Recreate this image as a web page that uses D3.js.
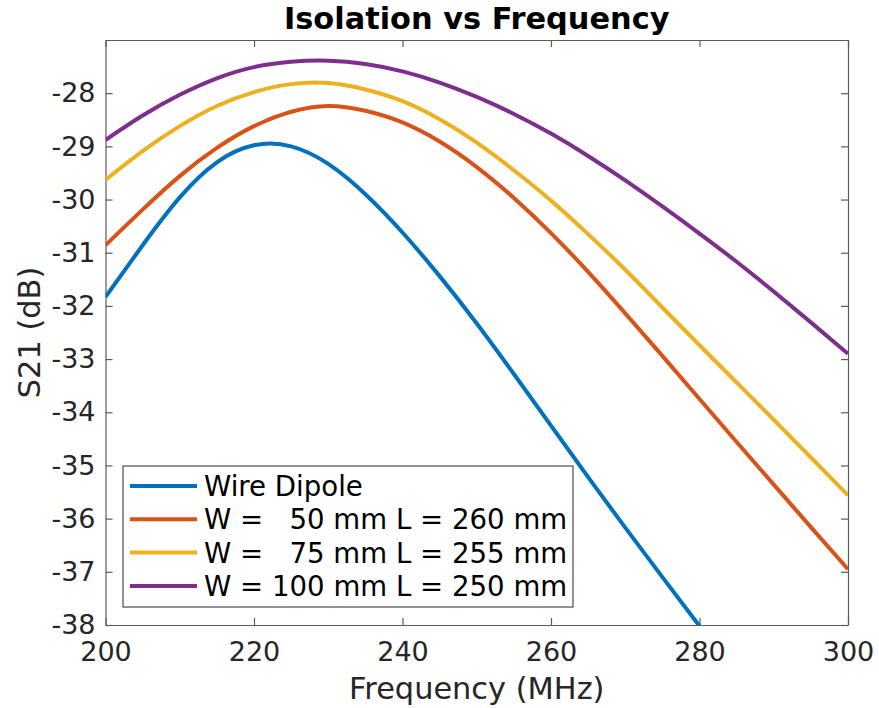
<!DOCTYPE html>
<html>
<head>
<meta charset="utf-8">
<script src="https://cdn.jsdelivr.net/npm/d3@7"></script>
<style>
  body { margin: 0; background: #fff; }
  text { font-family: "DejaVu Sans", sans-serif; }
</style>
</head>
<body>
<script>
const width = 879;
const height = 708;

// frequency points (MHz)
const freq = [200, 205, 210, 215, 220, 225, 230, 235, 240, 245, 250,
              255, 260, 265, 270, 275, 280, 285, 290, 295, 300];

// S21 (dB)
const wireDipole = [-31.83, -30.86, -29.96, -29.30, -28.98, -29.00, -29.33, -29.90, -30.62, -31.44, -32.33,
                    -33.28, -34.25, -35.22, -36.17, -37.10, -38.02];
const w50 = [-30.86, -30.19, -29.56, -29.03, -28.62, -28.35, -28.24, -28.33, -28.55, -28.91, -29.39,
             -29.97, -30.63, -31.36, -32.14, -32.94, -33.75, -34.56, -35.36, -36.16, -36.95];
const w75 = [-29.63, -29.09, -28.62, -28.24, -27.98, -27.83, -27.81, -27.93, -28.15, -28.49, -28.93,
             -29.45, -30.02, -30.65, -31.32, -32.03, -32.74, -33.44, -34.14, -34.85, -35.56];
const w100 = [-28.88, -28.42, -28.03, -27.72, -27.51, -27.41, -27.39, -27.45, -27.59, -27.80, -28.07,
              -28.39, -28.76, -29.18, -29.64, -30.13, -30.64, -31.17, -31.73, -32.31, -32.90];

const seriesNames = ['Wire Dipole', 'W =   50 mm L = 260 mm', 'W =   75 mm L = 255 mm', 'W = 100 mm L = 250 mm'];
const seriesColors = ['#0072BD', '#D95319', '#EDB120', '#7E2F8E'];
const seriesValues = [wireDipole, w50, w75, w100];

const xTicks = [200, 220, 240, 260, 280, 300];
const yTicks = [-38, -37, -36, -35, -34, -33, -32, -31, -30, -29, -28];

const margin = { top: 40, right: 31, bottom: 83, left: 105.5 };
const innerW = width - margin.left - margin.right;
const innerH = height - margin.top - margin.bottom;

const svg = d3.select('body')
    .append('svg')
    .attr('width', width)
    .attr('height', height);

const g = svg.append('g')
    .attr('transform', `translate(${margin.left}, ${margin.top})`);

const xScale = d3.scaleLinear().domain([200, 300]).range([0, innerW]);
const yScale = d3.scaleLinear().domain([-38, -27]).range([innerH, 0]);

const axisColor = '#5a5a5a';
const textColor = '#262626';

function styleAxis(sel, showLabels) {
    sel.select('.domain').attr('stroke', axisColor).attr('stroke-width', 1.2);
    sel.selectAll('.tick line').attr('stroke', axisColor).attr('stroke-width', 1.2);
    sel.selectAll('.tick text')
        .attr('fill', textColor)
        .style('font-size', '27px')
        .style('display', showLabels ? null : 'none');
}

g.append('g')
    .attr('transform', `translate(0, ${innerH})`)
    .call(d3.axisBottom(xScale).tickValues(xTicks).tickSizeInner(-7).tickSizeOuter(0).tickPadding(17)
        .tickFormat(d => d.toString()))
    .call(s => styleAxis(s, true));

g.append('g')
    .call(d3.axisTop(xScale).tickValues(xTicks).tickSizeInner(-7).tickSizeOuter(0))
    .call(s => styleAxis(s, false));

g.append('g')
    .call(d3.axisLeft(yScale).tickValues(yTicks).tickSizeInner(-7).tickSizeOuter(0).tickPadding(10)
        .tickFormat(d => d.toString()))
    .call(s => styleAxis(s, true));

g.append('g')
    .attr('transform', `translate(${innerW}, 0)`)
    .call(d3.axisRight(yScale).tickValues(yTicks).tickSizeInner(-7).tickSizeOuter(0))
    .call(s => styleAxis(s, false));

// clip the curves to the plot box
g.append('clipPath').attr('id', 'plotclip')
    .append('rect').attr('width', innerW).attr('height', innerH);

const line = d3.line()
    .x(d => xScale(d[0]))
    .y(d => yScale(d[1]))
    .curve(d3.curveNatural);

g.append('g')
    .attr('clip-path', 'url(#plotclip)')
    .selectAll('path')
    .data(seriesValues)
    .enter()
    .append('path')
    .attr('d', vals => line(vals.map((v, i) => [freq[i], v])))
    .attr('fill', 'none')
    .attr('stroke', (d, i) => seriesColors[i])
    .attr('stroke-width', 4);

// title & axis labels
svg.append('text')
    .attr('x', margin.left + innerW / 2)
    .attr('y', 29)
    .attr('text-anchor', 'middle')
    .style('font-size', '30.4px')
    .style('font-weight', 'bold')
    .text('Isolation vs Frequency');

svg.append('text')
    .attr('x', margin.left + innerW / 2)
    .attr('y', 699)
    .attr('text-anchor', 'middle')
    .attr('fill', textColor)
    .style('font-size', '30.4px')
    .text('Frequency (MHz)');

svg.append('text')
    .attr('transform', `translate(40, ${margin.top + innerH / 2}) rotate(-90)`)
    .attr('text-anchor', 'middle')
    .attr('fill', textColor)
    .style('font-size', '30.4px')
    .text('S21 (dB)');

// legend
const legend = svg.append('g').attr('transform', 'translate(123, 466)');
legend.append('rect')
    .attr('width', 450)
    .attr('height', 141)
    .attr('fill', '#fff')
    .attr('stroke', '#262626')
    .attr('stroke-width', 1);

const rows = legend.selectAll('g.row')
    .data(seriesNames)
    .enter()
    .append('g')
    .attr('class', 'row')
    .attr('transform', (d, i) => `translate(0, ${20 + i * 33.3})`);

rows.append('line')
    .attr('x1', 7).attr('x2', 74)
    .attr('stroke', (d, i) => seriesColors[i])
    .attr('stroke-width', 4);

rows.append('text')
    .attr('x', 81)
    .attr('dy', '0.36em')
    .style('font-size', '27.6px')
    .style('white-space', 'pre')
    .attr('fill', '#000')
    .text(d => d);
</script>
</body>
</html>
